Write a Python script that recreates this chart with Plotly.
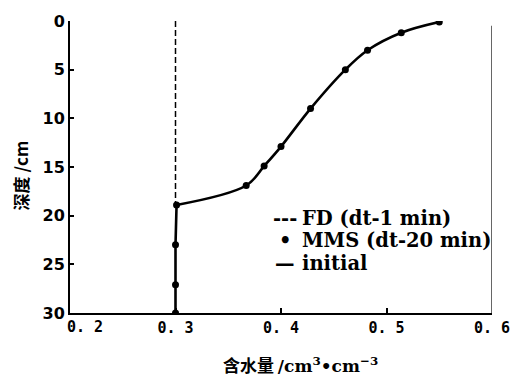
import plotly.graph_objects as go

# Data
fd_x = [0.3, 0.3]
fd_depth = [0.0, 19.0]

mms_x = [0.300, 0.300, 0.300, 0.301, 0.367, 0.384, 0.400, 0.428, 0.461, 0.482, 0.514, 0.550]
mms_depth = [30.0, 27.1, 23.0, 18.9, 16.9, 14.9, 12.9, 9.0, 5.0, 3.0, 1.2, 0.1]

# initial profile: vertical part below the wetting front, then smooth curve
init_low_x = [0.300, 0.300, 0.300, 0.301]
init_low_depth = [30.0, 27.1, 23.0, 18.9]
init_up_x = [0.301, 0.367, 0.384, 0.400, 0.428, 0.461, 0.482, 0.514, 0.550]
init_up_depth = [18.9, 16.9, 14.9, 12.9, 9.0, 5.0, 3.0, 1.2, 0.1]

x_ticks = [0.3, 0.4, 0.5, 0.6]
x_ticklabels = ["0. 3", "0. 4", "0. 5", "0. 6"]
first_xlabel = "0. 2"
y_ticks = [0, 5, 10, 15, 20, 25, 30]

legend_symbols = ["---", "•", "—"]
legend_labels = ["FD (dt-1 min)", "MMS (dt-20 min)", "initial"]

L, R, T, B = 70, 20, 14, 69
W, H = 522, 382
PW, PH = W - L - R, H - T - B


def px(x):
    return (x - L) / PW


def py(y):
    return (H - B - y) / PH


fig = go.Figure()
fig.add_trace(go.Scatter(x=fd_x, y=fd_depth, mode="lines", name=legend_labels[0],
                         line=dict(color="black", width=1.5, dash="6px,3px")))
fig.add_trace(go.Scatter(x=init_low_x, y=init_low_depth, mode="lines", name=legend_labels[2],
                         line=dict(color="black", width=2.6)))
fig.add_trace(go.Scatter(x=init_up_x, y=init_up_depth, mode="lines", name=legend_labels[2],
                         line=dict(color="black", width=2.6, shape="spline", smoothing=1.0)))
fig.add_trace(go.Scatter(x=mms_x, y=mms_depth, mode="markers", name=legend_labels[1],
                         marker=dict(color="black", size=7)))

fig.update_layout(
    width=W, height=H,
    margin=dict(l=L, r=R, t=T, b=B),
    paper_bgcolor="white", plot_bgcolor="white",
    font=dict(family="DejaVu Serif", color="black"),
    showlegend=False,
)
tick_font_x = dict(family="DejaVu Sans Mono", size=15, color="black", weight="bold")
fig.update_xaxes(range=[0.2, 0.6], tickvals=x_ticks, ticktext=x_ticklabels,
                 showgrid=False, zeroline=False, showline=True, linecolor="black", linewidth=2,
                 ticks="inside", ticklen=5, tickwidth=1.5, tickcolor="black",
                 tickfont=tick_font_x)
fig.update_yaxes(range=[30, 0], tickvals=y_ticks,
                 showgrid=False, zeroline=False, showline=True, linecolor="black", linewidth=2,
                 ticks="inside", ticklen=4, tickwidth=1.5, tickcolor="black",
                 tickfont=dict(family="DejaVu Sans", size=16, color="black", weight="bold"))

# first x tick label, set slightly right of the axis corner as in the reference
fig.add_annotation(text=first_xlabel, xref="paper", yref="paper", x=px(85), y=py(327),
                   showarrow=False, xanchor="center", yanchor="middle", font=tick_font_x)

# right frame line
fig.add_shape(type="line", xref="x", yref="y", x0=0.6, x1=0.6, y0=0.5, y1=30,
              line=dict(color="black", width=1.2))

# axis titles
fig.add_annotation(text='含水量 <span style="font-family:DejaVu Serif">/cm<sup>3</sup>•cm<sup>−3</sup></span>',
                   xref="paper", yref="paper",
                   x=px(306), y=py(366), showarrow=False, xanchor="center", yanchor="middle",
                   font=dict(family="Noto Sans CJK SC", size=17, color="black", weight="bold"))
fig.add_annotation(text="深度 /cm", xref="paper", yref="paper", textangle=-90,
                   x=px(19), y=py(172), showarrow=False, xanchor="center", yanchor="middle",
                   font=dict(family="Noto Sans CJK SC", size=17, color="black", weight="bold"))

# legend (drawn as text)
rows_y = [216, 239, 262]
for sym, lab, yy in zip(legend_symbols, legend_labels, rows_y):
    fig.add_annotation(text=sym, xref="paper", yref="paper", x=px(290), y=py(yy),
                       showarrow=False, xanchor="center", yanchor="middle",
                       font=dict(family="DejaVu Serif", size=19.5, color="black", weight="bold"))
    fig.add_annotation(text=lab, xref="paper", yref="paper", x=px(305), y=py(yy),
                       showarrow=False, xanchor="left", yanchor="middle",
                       font=dict(family="DejaVu Serif", size=19.5, color="black", weight="bold"))

fig.write_html("out.html")
